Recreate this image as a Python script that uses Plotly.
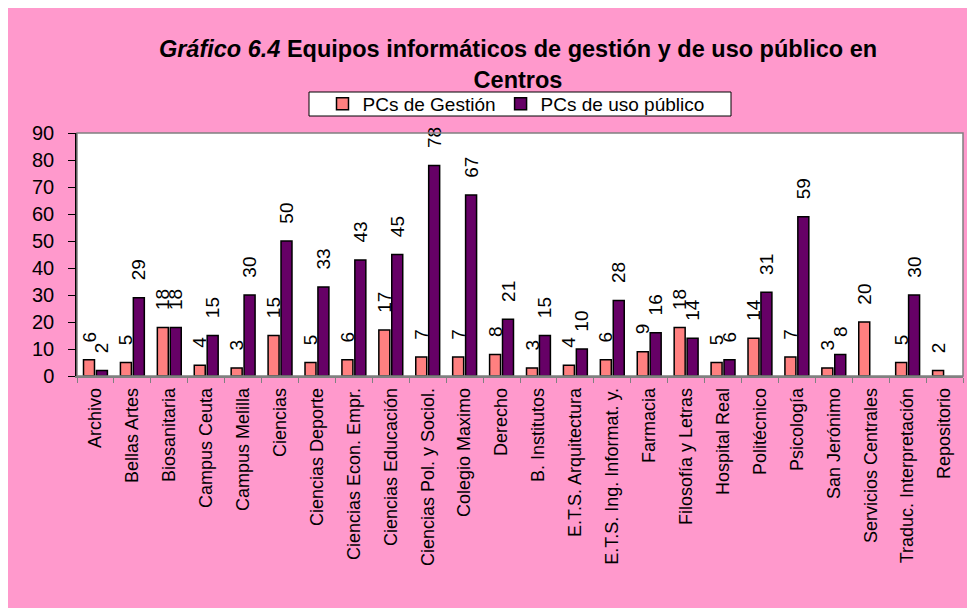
import plotly.graph_objects as go

categories = ["Archivo", "Bellas Artes", "Biosanitaria", "Campus Ceuta", "Campus Melilla",
              "Ciencias", "Ciencias Deporte", "Ciencias Econ. Empr.", "Ciencias Educación",
              "Ciencias Pol. y Sociol.", "Colegio Maximo", "Derecho", "B. Institutos",
              "E.T.S. Arquitectura", "E.T.S. Ing. Informat. y.", "Farmacia",
              "Filosofía y Letras", "Hospital Real", "Politécnico", "Psicología",
              "San Jerónimo", "Servicios Centrales", "Traduc. Interpretación", "Repositorio"]
pcs_gestion = [6, 5, 18, 4, 3, 15, 5, 6, 17, 7, 7, 8, 3, 4, 6, 9, 18, 5, 14, 7, 3, 20, 5, 2]
pcs_publico = [2, 29, 18, 15, 30, 50, 33, 43, 45, 78, 67, 21, 15, 10, 28, 16, 14, 6, 31, 59, 8, None, 30, None]
y_ticks = [0, 10, 20, 30, 40, 50, 60, 70, 80, 90]

# the page body adds an 8px white margin at top/left
OFF = 8
W, H = 975 - OFF, 608 - OFF
L, T = 77 - OFF, 133 - OFF
R = 975 - 963
B = 608 - 376
pw, ph = W - L - R, H - T - B

def px(x):  # page pixel x -> paper
    return (x - OFF - L) / pw

def py(y):  # page pixel y -> paper
    return (H - B - (y - OFF)) / ph

font = "Liberation Sans, Arial, sans-serif"
PAD = "\u00a0\u00a0\u2009"

fig = go.Figure()
for name, vals, col in [("PCs de Gestión", pcs_gestion, "#FF8080"),
                        ("PCs de uso público", pcs_publico, "#660066")]:
    fig.add_trace(go.Bar(
        name=name, x=categories, y=vals,
        marker=dict(color=col, line=dict(color="black", width=1.5)),
        text=[PAD + str(v) if v is not None else "" for v in vals],
        textposition="outside", textangle=-90, cliponaxis=False,
        constraintext="none",
        textfont=dict(size=19, color="black", family=font),
    ))

shapes = [
    # plot area border
    dict(type="rect", xref="paper", yref="paper", x0=0, x1=1, y0=0, y1=1,
         fillcolor="rgba(0,0,0,0)", line=dict(color="#808080", width=1.5), layer="above"),
    # legend box
    dict(type="rect", xref="paper", yref="paper", x0=px(309), x1=px(731), y0=py(116), y1=py(92),
         fillcolor="white", line=dict(color="black", width=1), layer="below"),
]

fig.update_layout(
    width=W, height=H,
    margin=dict(l=L, r=R, t=T, b=B),
    paper_bgcolor="#FF99CC",
    plot_bgcolor="white",
    font=dict(family=font, color="black"),
    title=dict(
        text="<b><i>Gráfico 6.4</i> Equipos informáticos de gestión y de uso público en<br>Centros</b>",
        x=px(518), xref="paper", xanchor="center",
        y=1 - 49 / H, yref="container", yanchor="top",
        font=dict(size=23.5, family=font, color="black"),
    ),
    legend=dict(
        orientation="h", x=px(516), xanchor="center", y=py(104), yanchor="middle",
        bgcolor="rgba(0,0,0,0)", borderwidth=0,
        font=dict(size=19, family=font, color="black"),
        itemwidth=30, tracegroupgap=0,
    ),
    barmode="group", bargap=0.3, bargroupgap=0.15,
    shapes=shapes,
    showlegend=True,
)
fig.update_xaxes(
    type="category", tickangle=-90, ticks="outside", tickson="boundaries",
    ticklen=5, tickcolor="#808080", showline=True, linecolor="#808080", linewidth=1.5,
    tickfont=dict(size=18, family=font, color="black"), showgrid=False,
    ticklabelstandoff=3,
)
fig.update_yaxes(
    range=[0, 90], tickvals=y_ticks, ticks="outside", ticklen=7, tickcolor="black",
    showline=True, linecolor="black", linewidth=1.5, showgrid=False, zeroline=False,
    tickfont=dict(size=20, family=font, color="black"), ticklabelstandoff=10,
)

fig.write_html("out.html")
